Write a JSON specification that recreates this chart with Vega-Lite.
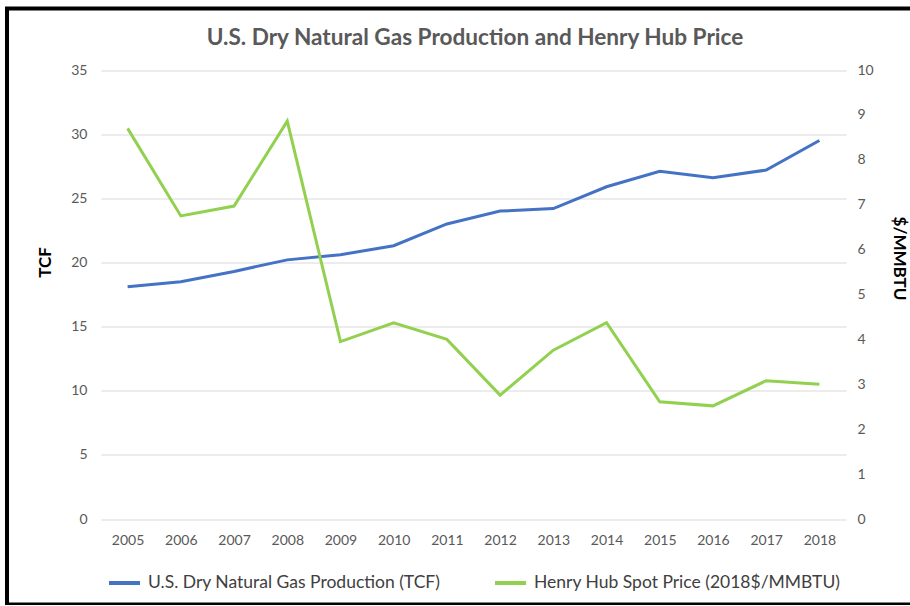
{
  "$schema": "https://vega.github.io/schema/vega-lite/v6.json",
  "autosize": {"type": "none"},
  "padding": {"left": 7, "top": 8.5, "right": 0, "bottom": 0},
  "width": 910,
  "height": 596,
  "background": "white",
  "title": {
    "text": "U.S. Dry Natural Gas Production and Henry Hub Price",
    "font": "Lato",
    "fontSize": 22.6,
    "fontWeight": "bold",
    "color": "#595959",
    "anchor": "middle",
    "frame": "group",
    "baseline": "top",
    "offset": -16,
    "dx": 13,
    "dy": 25
  },
  "data": {
    "values": [
      {"year": 2005, "series": "U.S. Dry Natural Gas Production (TCF)", "value": 18.1},
      {"year": 2006, "series": "U.S. Dry Natural Gas Production (TCF)", "value": 18.5},
      {"year": 2007, "series": "U.S. Dry Natural Gas Production (TCF)", "value": 19.3},
      {"year": 2008, "series": "U.S. Dry Natural Gas Production (TCF)", "value": 20.2},
      {"year": 2009, "series": "U.S. Dry Natural Gas Production (TCF)", "value": 20.6},
      {"year": 2010, "series": "U.S. Dry Natural Gas Production (TCF)", "value": 21.3},
      {"year": 2011, "series": "U.S. Dry Natural Gas Production (TCF)", "value": 23.0},
      {"year": 2012, "series": "U.S. Dry Natural Gas Production (TCF)", "value": 24.0},
      {"year": 2013, "series": "U.S. Dry Natural Gas Production (TCF)", "value": 24.2},
      {"year": 2014, "series": "U.S. Dry Natural Gas Production (TCF)", "value": 25.9},
      {"year": 2015, "series": "U.S. Dry Natural Gas Production (TCF)", "value": 27.1},
      {"year": 2016, "series": "U.S. Dry Natural Gas Production (TCF)", "value": 26.6},
      {"year": 2017, "series": "U.S. Dry Natural Gas Production (TCF)", "value": 27.2},
      {"year": 2018, "series": "U.S. Dry Natural Gas Production (TCF)", "value": 29.5},
      {"year": 2005, "series": "Henry Hub Spot Price (2018$/MMBTU)", "value": 8.70},
      {"year": 2006, "series": "Henry Hub Spot Price (2018$/MMBTU)", "value": 6.75},
      {"year": 2007, "series": "Henry Hub Spot Price (2018$/MMBTU)", "value": 6.97},
      {"year": 2008, "series": "Henry Hub Spot Price (2018$/MMBTU)", "value": 8.86},
      {"year": 2009, "series": "Henry Hub Spot Price (2018$/MMBTU)", "value": 3.95},
      {"year": 2010, "series": "Henry Hub Spot Price (2018$/MMBTU)", "value": 4.37},
      {"year": 2011, "series": "Henry Hub Spot Price (2018$/MMBTU)", "value": 4.00},
      {"year": 2012, "series": "Henry Hub Spot Price (2018$/MMBTU)", "value": 2.76},
      {"year": 2013, "series": "Henry Hub Spot Price (2018$/MMBTU)", "value": 3.76},
      {"year": 2014, "series": "Henry Hub Spot Price (2018$/MMBTU)", "value": 4.37},
      {"year": 2015, "series": "Henry Hub Spot Price (2018$/MMBTU)", "value": 2.61},
      {"year": 2016, "series": "Henry Hub Spot Price (2018$/MMBTU)", "value": 2.52},
      {"year": 2017, "series": "Henry Hub Spot Price (2018$/MMBTU)", "value": 3.08},
      {"year": 2018, "series": "Henry Hub Spot Price (2018$/MMBTU)", "value": 3.00}
    ]
  },
  "encoding": {
    "x": {
      "field": "year",
      "type": "quantitative",
      "scale": {"domain": [2004.5, 2018.5], "range": [94, 839], "nice": false, "zero": false},
      "axis": {
        "values": [2005, 2006, 2007, 2008, 2009, 2010, 2011, 2012, 2013, 2014, 2015, 2016, 2017, 2018],
        "format": "d",
        "title": null,
        "grid": false,
        "domain": false,
        "ticks": false,
        "offset": -85.5,
        "labelPadding": 14,
        "labelFlush": false,
        "labelOverlap": false,
        "labelFont": "Lato",
        "labelFontSize": 14,
        "labelColor": "#595959"
      }
    },
    "color": {
      "field": "series",
      "type": "nominal",
      "scale": {
        "domain": ["U.S. Dry Natural Gas Production (TCF)", "Henry Hub Spot Price (2018$/MMBTU)"],
        "range": ["#4472C4", "#92D050"]
      },
      "legend": {
        "orient": "none",
        "legendX": 100,
        "legendY": 557,
        "direction": "horizontal",
        "title": null,
        "symbolType": "stroke",
        "symbolSize": 961,
        "symbolStrokeWidth": 4,
        "labelOffset": 6,
        "columnPadding": 46,
        "labelFont": "Lato",
        "labelFontSize": 17.5,
        "labelColor": "#404040",
        "labelLimit": 400,
        "padding": 0
      }
    }
  },
  "layer": [
    {
      "transform": [{"filter": "datum.series === 'U.S. Dry Natural Gas Production (TCF)'"}],
      "mark": {"type": "line", "strokeWidth": 3},
      "encoding": {
        "y": {
          "field": "value",
          "type": "quantitative",
          "scale": {"domain": [0, 35], "range": [510.5, 61.5], "nice": false},
          "axis": {
            "orient": "left",
            "values": [0, 5, 10, 15, 20, 25, 30, 35],
            "title": "TCF",
            "titleFont": "Lato",
            "titleFontSize": 17,
            "titleFontWeight": "bold",
            "titleColor": "black",
            "titleAngle": 270,
            "titleAlign": "center",
            "titleBaseline": "middle",
            "titleX": -56,
            "titleY": 253.5,
            "grid": true,
            "gridColor": "#D9D9D9",
            "gridWidth": 1,
            "domain": false,
            "ticks": false,
            "offset": -94,
            "labelPadding": 14,
            "labelFont": "Lato",
            "labelFontSize": 14,
            "labelColor": "#595959"
          }
        }
      }
    },
    {
      "transform": [{"filter": "datum.series === 'Henry Hub Spot Price (2018$/MMBTU)'"}],
      "mark": {"type": "line", "strokeWidth": 3},
      "encoding": {
        "y": {
          "field": "value",
          "type": "quantitative",
          "scale": {"domain": [0, 10], "range": [510.5, 61.5], "nice": false},
          "axis": {
            "orient": "right",
            "values": [0, 1, 2, 3, 4, 5, 6, 7, 8, 9, 10],
            "title": "$/MMBTU",
            "titleFont": "Lato",
            "titleFontSize": 17,
            "titleFontWeight": "bold",
            "titleColor": "black",
            "titleAngle": 90,
            "titleAlign": "center",
            "titleBaseline": "middle",
            "titleX": 52,
            "titleY": 249.5,
            "grid": false,
            "domain": false,
            "ticks": false,
            "offset": -71,
            "labelPadding": 11,
            "labelFont": "Lato",
            "labelFontSize": 14,
            "labelColor": "#595959"
          }
        }
      }
    }
  ],
  "resolve": {"scale": {"y": "independent"}, "axis": {"y": "independent"}},
  "config": {
    "view": {"stroke": "black", "strokeWidth": 4, "fill": "white"}
  }
}
